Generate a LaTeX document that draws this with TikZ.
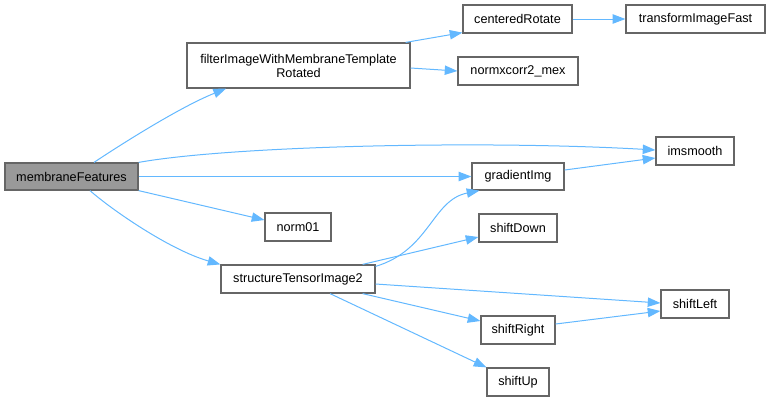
\documentclass[tikz,border=0pt]{standalone}
\usepackage{fontspec}
\setmainfont{Liberation Sans}
\usetikzlibrary{calc,arrows.meta}
\definecolor{edgeblue}{HTML}{63B8FF}
\definecolor{boxborder}{HTML}{666666}
\definecolor{rootfill}{HTML}{999999}
\tikzset{
  box/.style={draw=boxborder, line width=0.9pt, fill=white, inner sep=0pt,
    align=center, font=\fontsize{9.5}{10.5}\selectfont},
  rootbox/.style={box, fill=rootfill},
  edge/.style={draw=edgeblue, line width=0.75pt,
    -{Triangle[length=9.5pt,width=7pt]}}
}
\newcommand\mybox[6]{\node[#6, minimum width=#3*0.75pt, minimum height=#4*0.75pt] (#1) at (#2) {#5};}
\begin{document}
\begin{tikzpicture}[x=0.75pt,y=-0.75pt]
\useasboundingbox (0,0) rectangle (770,401);
\mybox{mf}{71.5,176.5}{133}{27}{membraneFeatures}{rootbox}
\mybox{fi}{298.5,65.5}{223}{45}{filterImageWithMembraneTemplate\\Rotated}{box}
\mybox{cr}{517.5,19}{109}{28}{centeredRotate}{box}
\mybox{tf}{695.5,19}{139}{28}{transformImageFast}{box}
\mybox{nx}{518,71}{120}{28}{normxcorr2\_mex}{box}
\mybox{ims}{695,151}{78}{28}{imsmooth}{box}
\mybox{gi}{518,176.5}{92}{27}{gradientImg}{box}
\mybox{n01}{298,227}{66}{28}{norm01}{box}
\mybox{st}{298,279}{154}{28}{structureTensorImage2}{box}
\mybox{sd}{518,228}{78}{28}{shiftDown}{box}
\mybox{sl}{695,304}{68}{28}{shiftLeft}{box}
\mybox{sr}{518,330}{74}{28}{shiftRight}{box}
\mybox{su}{518,382}{62}{28}{shiftUp}{box}

\draw[edge] ($(mf.north)+(22.5,0)$) .. controls (120,145) and (180,107) .. ($(fi.south)+(-72.5,0)$);
\draw[edge] (mf.north east) .. controls (230,146) and (480,140) .. ($(ims.west)+(0,-1)$);
\draw[edge] (mf.east) -- (gi.west);
\draw[edge] (mf.south east) -- ($(n01.west)+(0,-7)$);
\draw[edge] ($(mf.south)+(18.5,0)$) .. controls (112,210) and (170,250) .. (st.north west);
\draw[edge] ($(fi.north east)+(-5,0)$) -- ($(cr.south west)+(0,-1)$);
\draw[edge] ($(fi.east)+(0,2.5)$) -- (nx.west);
\draw[edge] (cr.east) -- (tf.west);
\draw[edge] ($(gi.east)+(0,-6.5)$) -- ($(ims.west)+(0,7)$);
\draw[edge] ($(st.north east)+(0,2)$) .. controls (430,250) and (432,200) .. ($(gi.south west)+(8,0)$);
\draw[edge] ($(st.north east)+(-13,0)$) -- ($(sd.west)+(0,9)$);
\draw[edge] ($(st.east)+(0,5)$) -- ($(sl.west)+(0,-1)$);
\draw[edge] ($(st.south east)+(-13,0)$) -- ($(sr.west)+(0,-9)$);
\draw[edge] ($(st.south)+(32,0)$) -- (su.north west);
\draw[edge] ($(sr.east)+(0,-6)$) -- ($(sl.west)+(0,7)$);
\end{tikzpicture}
\end{document}
